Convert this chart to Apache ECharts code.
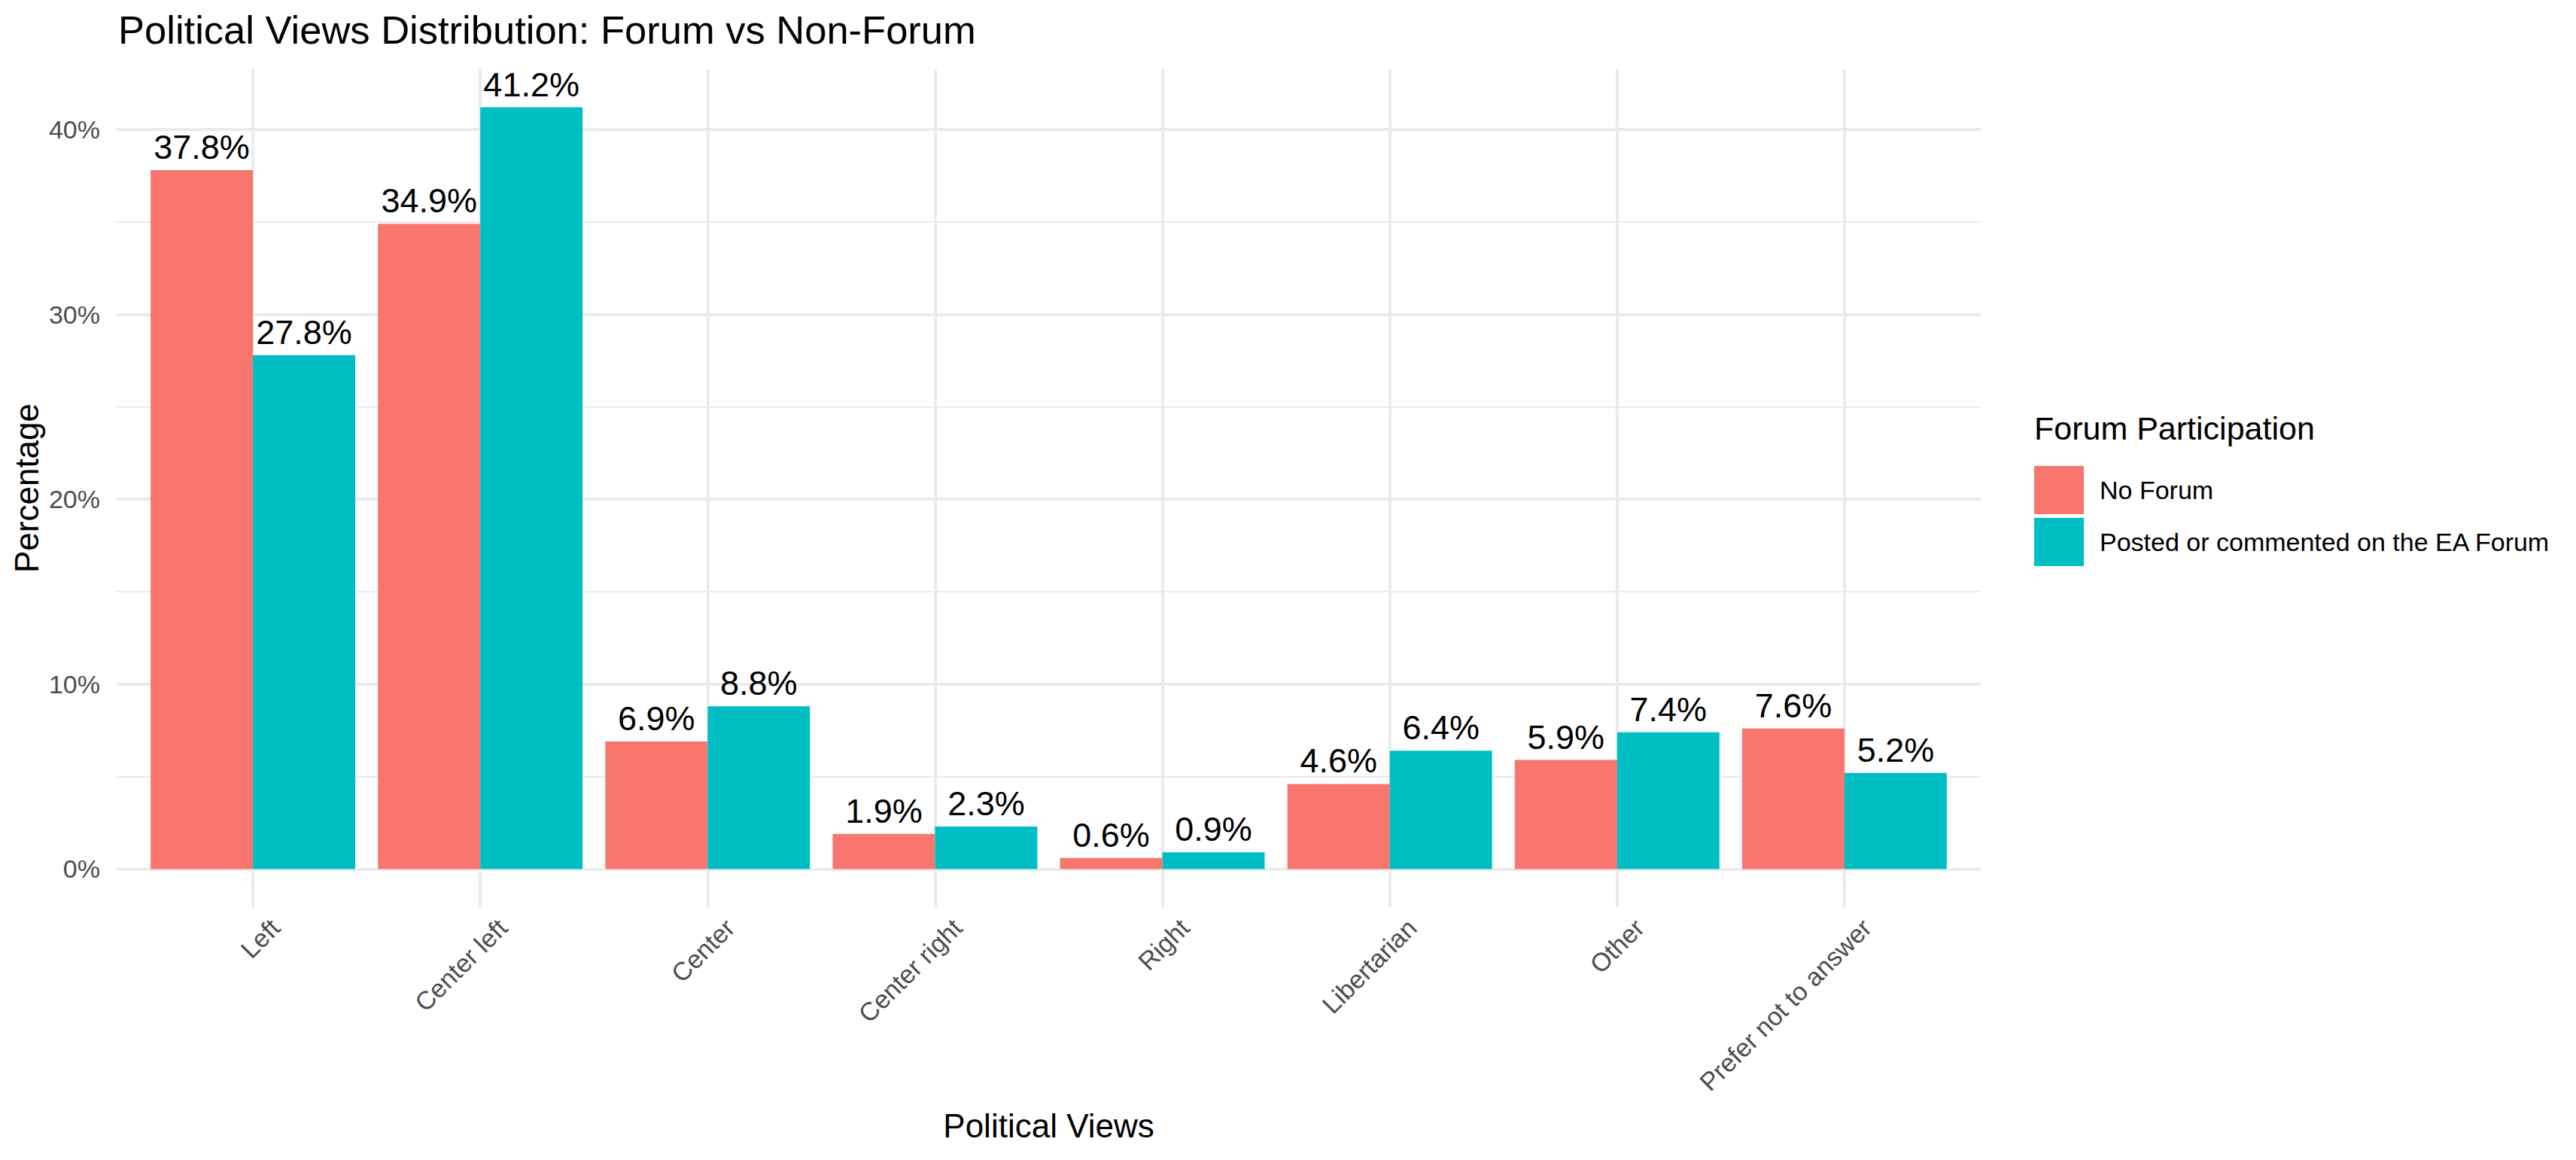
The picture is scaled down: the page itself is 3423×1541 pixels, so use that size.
<!DOCTYPE html>
<html>
<head>
<meta charset="utf-8">
<script src="https://cdn.jsdelivr.net/npm/echarts@6/dist/echarts.min.js"></script>
<style>
html,body{margin:0;padding:0;background:#fff;}
#chart{width:3423px;height:1541px;}
</style>
</head>
<body>
<div id="chart"></div>
<script>
const categories = ["Left", "Center left", "Center", "Center right", "Right", "Libertarian", "Other", "Prefer not to answer"];
const noForum = [37.8, 34.9, 6.9, 1.9, 0.6, 4.6, 5.9, 7.6];
const forumPosted = [27.8, 41.2, 8.8, 2.3, 0.9, 6.4, 7.4, 5.2];
const seriesNames = ["No Forum", "Posted or commented on the EA Forum"];
const yMajorTicks = [0, 10, 20, 30, 40];
const yMinorTicks = [5, 15, 25, 35];
const yTickLabels = ["0%", "10%", "20%", "30%", "40%"];

const FONT = "'Liberation Sans', Arial, sans-serif";
const GRID_COLOR = "#EBEBEB";

// panel (ggplot) spans 155..2632; categories use 302.1px each with 0.6 unit padding
const PANEL_L = 155, PANEL_R = 2632, PANEL_T = 92, PANEL_B = 1205;
const BAND_L = 185, BAND_R = 2602;
const Y_MIN = -2.06, Y_MAX = 43.26;

const chart = echarts.init(document.getElementById('chart'), null, {renderer: 'svg'});

const hLines = [];
yMinorTicks.forEach(v => hLines.push({yAxis: v, lineStyle: {color: GRID_COLOR, width: 2, type: 'solid'}, label: {show: false}}));
yMajorTicks.forEach((v, i) => hLines.push({
  yAxis: v,
  lineStyle: {color: GRID_COLOR, width: 4, type: 'solid'},
  label: {show: true, position: 'start', distance: 22, formatter: yTickLabels[i], color: '#4D4D4D', fontSize: 34, fontFamily: FONT}
}));
const vLines = categories.map(c => ({xAxis: c, lineStyle: {color: GRID_COLOR, width: 4, type: 'solid'}, label: {show: false}}));

const labelOpt = {
  show: true, position: 'top', distance: 8,
  color: '#000', fontSize: 45, fontFamily: FONT,
  formatter: p => p.value.toFixed(1) + '%'
};

chart.setOption({
  animation: false,
  backgroundColor: '#fff',
  textStyle: {fontFamily: FONT},
  title: [
    {text: 'Political Views Distribution: Forum vs Non-Forum', left: 152, top: 8,
     textStyle: {fontSize: 52.5, fontWeight: 'normal', color: '#000', fontFamily: FONT}},
    {text: 'Forum Participation', left: 2698, top: 542,
     textStyle: {fontSize: 43, fontWeight: 'normal', color: '#000', fontFamily: FONT}}
  ],
  legend: {
    data: seriesNames,
    orient: 'vertical',
    left: 2698, top: 614,
    itemWidth: 66, itemHeight: 64, itemGap: 5,
    icon: 'rect',
    textStyle: {fontSize: 34, color: '#000', fontFamily: FONT, padding: [0, 0, 0, 16]},
    selectedMode: false
  },
  grid: [
    {left: BAND_L, right: 3423 - BAND_R, top: PANEL_T, bottom: 1541 - PANEL_B, containLabel: false, outerBoundsMode: 'none'},
    {left: PANEL_L, right: 3423 - PANEL_R, top: PANEL_T, bottom: 1541 - PANEL_B, containLabel: false, outerBoundsMode: 'none'}
  ],
  xAxis: [
    {
      type: 'category',
      gridIndex: 0,
      data: categories,
      axisLine: {show: false},
      axisTick: {show: false},
      splitLine: {show: false},
      axisLabel: {rotate: 45, align: 'right', verticalAlign: 'top', padding: [25, 0, 0, 0], color: '#4D4D4D', fontSize: 34, fontFamily: FONT, margin: -8, interval: 0},
      name: 'Political Views',
      nameLocation: 'middle',
      nameGap: 268,
      nameTextStyle: {fontSize: 44, color: '#000', fontFamily: FONT}
    },
    {type: 'value', gridIndex: 1, min: 0, max: 1, show: false}
  ],
  yAxis: [
    {
      type: 'value',
      gridIndex: 0,
      min: Y_MIN, max: Y_MAX,
      axisLine: {show: false},
      axisTick: {show: false},
      axisLabel: {show: false},
      splitLine: {show: false},
      name: 'Percentage',
      nameLocation: 'middle',
      nameGap: 128,
      nameRotate: 90,
      nameTextStyle: {fontSize: 44, color: '#000', fontFamily: FONT}
    },
    {type: 'value', gridIndex: 1, min: Y_MIN, max: Y_MAX, show: false}
  ],
  series: [
    {
      name: '_hgrid', type: 'line', data: [], silent: true, z: 0,
      xAxisIndex: 1, yAxisIndex: 1,
      markLine: {silent: true, symbol: ['none', 'none'], animation: false, z: 0, data: hLines}
    },
    {
      name: '_vgrid', type: 'line', data: [], silent: true, z: 0,
      xAxisIndex: 0, yAxisIndex: 0,
      markLine: {silent: true, symbol: ['none', 'none'], animation: false, z: 0, data: vLines}
    },
    {
      name: seriesNames[0], type: 'bar', data: noForum, z: 2,
      xAxisIndex: 0, yAxisIndex: 0,
      itemStyle: {color: '#F8766D'},
      barGap: '0%', barCategoryGap: '10%',
      label: labelOpt
    },
    {
      name: seriesNames[1], type: 'bar', data: forumPosted, z: 2,
      xAxisIndex: 0, yAxisIndex: 0,
      itemStyle: {color: '#00BFC4'},
      barGap: '0%', barCategoryGap: '10%',
      label: labelOpt
    }
  ]
});
</script>
</body>
</html>
